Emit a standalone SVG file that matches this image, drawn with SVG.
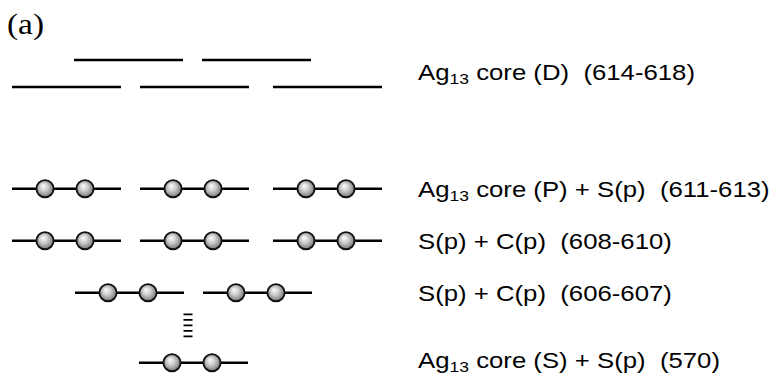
<svg xmlns="http://www.w3.org/2000/svg" xmlns:xlink="http://www.w3.org/1999/xlink" width="777" height="374" viewBox="0 0 777 374">
<style>
.lv{stroke:#000;stroke-width:2.5;fill:none}
.lb{font-family:"Liberation Sans",Arial,sans-serif;font-size:22px;fill:#000;white-space:pre}
.sb{font-size:15px}
.ttl{font-family:"Liberation Serif","Times New Roman",serif;font-size:29px;fill:#000}
</style>
<defs>
<radialGradient id="sph" cx="0.5" cy="0.5" r="0.6" fx="0.38" fy="0.33">
<stop offset="0" stop-color="#ffffff"/>
<stop offset="0.45" stop-color="#c4c4c4"/>
<stop offset="1" stop-color="#5e5e5e"/>
</radialGradient>
<g id="ball"><circle r="8.6" fill="url(#sph)" stroke="#111" stroke-width="1.9"/></g>
<g id="pair">
<line class="lv" x1="0" y1="0" x2="109" y2="0"/>
<use xlink:href="#ball" x="33" y="0"/>
<use xlink:href="#ball" x="73" y="0"/>
</g>
</defs>
<rect width="777" height="374" fill="#fff"/>
<text class="ttl" transform="translate(7,34) scale(1.15,1)">(a)</text>
<g id="level-D">
<line class="lv" x1="74" y1="60" x2="183" y2="60"/>
<line class="lv" x1="202" y1="60" x2="311" y2="60"/>
<line class="lv" x1="12" y1="87" x2="121" y2="87"/>
<line class="lv" x1="140" y1="87" x2="249" y2="87"/>
<line class="lv" x1="273" y1="87" x2="382" y2="87"/>
<text class="lb" xml:space="preserve" transform="translate(418,80) scale(1.17,1)">Ag<tspan class="sb" dy="4">13</tspan><tspan dy="-4"> core (D)  (614-618)</tspan></text>
</g>
<g id="level-P">
<use xlink:href="#pair" x="12" y="188.7"/>
<use xlink:href="#pair" x="140" y="188.7"/>
<use xlink:href="#pair" x="273" y="188.7"/>
<text class="lb" xml:space="preserve" transform="translate(418,196.5) scale(1.17,1)">Ag<tspan class="sb" dy="4">13</tspan><tspan dy="-4"> core (P) + S(p)  (611-613)</tspan></text>
</g>
<g id="level-608">
<use xlink:href="#pair" x="12" y="240.7"/>
<use xlink:href="#pair" x="140" y="240.7"/>
<use xlink:href="#pair" x="273" y="240.7"/>
<text class="lb" xml:space="preserve" transform="translate(418,248.5) scale(1.17,1)">S(p) + C(p)  (608-610)</text>
</g>
<g id="level-606">
<use xlink:href="#pair" x="75" y="292.7"/>
<use xlink:href="#pair" x="203" y="292.7"/>
<text class="lb" xml:space="preserve" transform="translate(418,300.5) scale(1.17,1)">S(p) + C(p)  (606-607)</text>
</g>
<g id="ellipsis">
<line x1="188" y1="313.4" x2="188" y2="338" stroke="#000" stroke-width="9" stroke-dasharray="1.8 3.7"/>
</g>
<g id="level-S">
<use xlink:href="#pair" x="139" y="362.7"/>
<text class="lb" xml:space="preserve" transform="translate(418,367.5) scale(1.17,1)">Ag<tspan class="sb" dy="4">13</tspan><tspan dy="-4"> core (S) + S(p)  (570)</tspan></text>
</g>
<g id="connectors"/>
</svg>
